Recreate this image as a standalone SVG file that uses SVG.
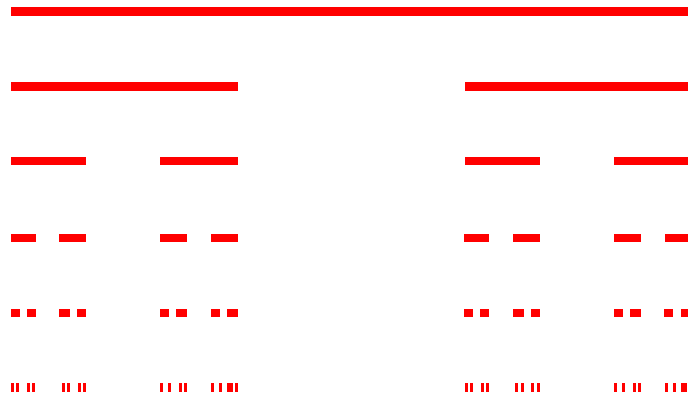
<svg xmlns="http://www.w3.org/2000/svg" width="688" height="396" viewBox="0 0 688 396">
<style>rect{fill:#ff0000}</style>
<rect x="0" y="0" width="688" height="396" style="fill:#fff"/>
<g id="level0"><rect x="11" y="7" width="677" height="9"/></g>
<g id="level1"><rect x="11" y="82" width="227" height="9"/><rect x="465" y="82" width="223" height="9"/></g>
<g id="level2">
<rect x="11" y="157" width="75" height="8"/><rect x="160" y="157" width="78" height="8"/>
<rect x="465" y="157" width="75" height="8"/><rect x="614" y="157" width="74" height="8"/>
</g>
<g id="level3">
<rect x="11" y="234" width="25" height="8"/><rect x="59" y="234" width="27" height="8"/>
<rect x="160" y="234" width="27" height="8"/><rect x="211" y="234" width="27" height="8"/>
<rect x="464" y="234" width="25" height="8"/><rect x="513" y="234" width="27" height="8"/>
<rect x="614" y="234" width="27" height="8"/><rect x="665" y="234" width="23" height="8"/>
</g>
<g id="level4">
<rect x="11" y="309" width="9" height="8"/><rect x="27" y="309" width="9" height="8"/>
<rect x="59" y="309" width="11" height="8"/><rect x="77" y="309" width="9" height="8"/>
<rect x="160" y="309" width="9" height="8"/><rect x="176" y="309" width="11" height="8"/>
<rect x="211" y="309" width="9" height="8"/><rect x="227" y="309" width="11" height="8"/>
<rect x="464" y="309" width="9" height="8"/><rect x="480" y="309" width="9" height="8"/>
<rect x="513" y="309" width="11" height="8"/><rect x="531" y="309" width="9" height="8"/>
<rect x="614" y="309" width="9" height="8"/><rect x="630" y="309" width="11" height="8"/>
<rect x="664" y="309" width="9" height="8"/><rect x="681" y="309" width="7" height="8"/>
</g>
<g id="level5">
<rect x="11" y="383" width="3" height="9"/><rect x="16" y="383" width="3" height="9"/>
<rect x="27" y="383" width="3" height="9"/><rect x="32" y="383" width="3" height="9"/>
<rect x="62" y="383" width="3" height="9"/><rect x="67" y="383" width="3" height="9"/>
<rect x="78" y="383" width="3" height="9"/><rect x="83" y="383" width="3" height="9"/>
<rect x="160" y="383" width="3" height="9"/><rect x="168" y="383" width="3" height="9"/>
<rect x="179" y="383" width="3" height="9"/><rect x="184" y="383" width="3" height="9"/>
<rect x="211" y="383" width="3" height="9"/><rect x="219" y="383" width="3" height="9"/>
<rect x="227" y="383" width="6" height="9"/><rect x="235" y="383" width="3" height="9"/>
<rect x="465" y="383" width="3" height="9"/><rect x="470" y="383" width="3" height="9"/>
<rect x="481" y="383" width="3" height="9"/><rect x="486" y="383" width="3" height="9"/>
<rect x="515" y="383" width="3" height="9"/><rect x="521" y="383" width="3" height="9"/>
<rect x="531" y="383" width="3" height="9"/><rect x="537" y="383" width="3" height="9"/>
<rect x="614" y="383" width="3" height="9"/><rect x="622" y="383" width="3" height="9"/>
<rect x="633" y="383" width="3" height="9"/><rect x="638" y="383" width="3" height="9"/>
<rect x="665" y="383" width="3" height="9"/><rect x="673" y="383" width="3" height="9"/>
<rect x="681" y="383" width="6" height="9"/>
</g>
</svg>
